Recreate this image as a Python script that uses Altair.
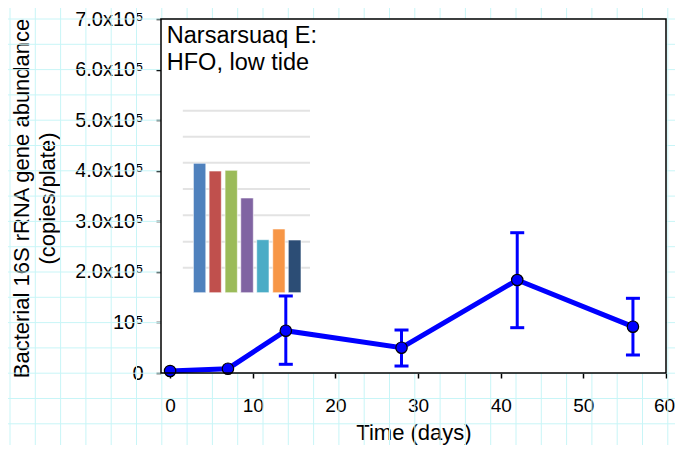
import altair as alt
import pandas as pd

# ---------------- data ----------------
days = [0, 7, 14, 28, 42, 56]
abundance = [4000, 8500, 83600, 50000, 183900, 91600]
err_low = [None, None, 17200, 13800, 89600, 35600]
err_high = [None, None, 152300, 85000, 277400, 147700]

# small embedded bar picture (inset) in the upper-left of the plot
inset_colors = ["#4F81BD", "#C0504D", "#9BBB59", "#8064A2", "#4BACC6", "#F79646", "#2C4D75"]
inset_start = [2.82, 4.72, 6.65, 8.55, 10.48, 12.42, 14.30]
inset_end = [4.32, 6.20, 8.14, 10.07, 11.97, 13.91, 15.84]
inset_top = [414700, 399400, 400800, 346100, 263600, 284800, 263000]
inset_base = 158800
inset_grid = [208200, 259600, 311800, 363800, 415900, 467300, 518700]
inset_grid_from = 1.54
inset_grid_to = 16.93

note_lines = ["Narsarsuaq E:", "HFO, low tide"]
note_y = [652000, 599000]
note_x = -0.4

x_ticks = [0, 10, 20, 30, 40, 50, 60]
y_ticks = [0, 100000, 200000, 300000, 400000, 500000, 600000, 700000]
y_tick_labels = ["0\u00a0", "10\u2075", "2.0x10\u2075", "3.0x10\u2075", "4.0x10\u2075",
                 "5.0x10\u2075", "6.0x10\u2075", "7.0x10\u2075"]
x_title = "Time (days)"
y_title = ["Bacterial 16S rRNA gene abundance", "(copies/plate)"]

# ---------------- layout / style ----------------
W, H = 505, 354
PAD_L, PAD_T, PAD_R, PAD_B = 153, 11, 9, 72
FONT = "Liberation Sans"
BLUE = "#0000FF"
GRID = "#c8f5f7"

label_expr = " : ".join(f"datum.value == {v} ? '{l}'" for v, l in zip(y_ticks, y_tick_labels)) + " : ''"

xscale = alt.Scale(domain=[-1.1, 60], nice=False, zero=False)
yscale = alt.Scale(domain=[0, 700000], nice=False, zero=False)

xaxis = alt.Axis(values=x_ticks, title=x_title, grid=False, domain=False,
                 tickSize=5, tickWidth=1.5, tickColor="black",
                 labelFontSize=19, labelColor="black", labelFont=FONT,
                 labelBaseline="alphabetic", labelPadding=33, labelFlush=False,
                 labelOverlap=False,
                 labelOffset={"condition": {"test": f"datum.value == {x_ticks[-1]}", "value": -2},
                              "value": 0},
                 titleFontSize=22, titleFontWeight="normal", titleColor="black",
                 titleFont=FONT, titleBaseline="alphabetic", titleY=66.5)
yaxis = alt.Axis(values=y_ticks, title=y_title, labelExpr=label_expr, grid=False,
                 domain=False, tickSize=5, tickWidth=1.5, tickColor="black",
                 labelFontSize=20, labelColor="black", labelFont=FONT,
                 labelAlign="right", labelBaseline="middle", labelPadding=13,
                 labelFlush=False, labelOverlap=False,
                 titleFontSize=22, titleFontWeight="normal", titleColor="black",
                 titleFont=FONT, titleBaseline="alphabetic", titleX=-132.7,
                 titleY=179, titleLineHeight=26, titleAngle=270)


def X(f):
    return alt.X(f, type="quantitative", scale=xscale, axis=xaxis)


def Y(f):
    return alt.Y(f, type="quantitative", scale=yscale, axis=yaxis)


main = pd.DataFrame({"day": days, "value": abundance, "low": err_low, "high": err_high})
inset = pd.DataFrame({"start": inset_start, "end": inset_end, "top": inset_top,
                      "base": [inset_base] * len(inset_top), "color": inset_colors})
igrid = pd.DataFrame({"y": inset_grid, "x0": [inset_grid_from] * len(inset_grid),
                      "x1": [inset_grid_to] * len(inset_grid)})
notes = pd.DataFrame({"text": note_lines, "y": note_y, "x": [note_x] * len(note_lines)})
one = pd.DataFrame({"a": [0]})

# graph-paper background of the page
vlines = alt.Chart(alt.sequence(0, 27, as_="k")).transform_calculate(
    px="-151 + datum.k * 25.3"
).mark_rule(color=GRID, strokeWidth=1).encode(
    x=alt.X("px:Q", scale=None, axis=None),
    y=alt.value(-PAD_T), y2=alt.value(H + PAD_B))
hlines = alt.Chart(alt.sequence(0, 18, as_="j")).transform_calculate(
    py="datum.j * 25.3"
).mark_rule(color=GRID, strokeWidth=1).encode(
    y=alt.Y("py:Q", scale=None, axis=None),
    x=alt.value(-PAD_L), x2=alt.value(W + PAD_R))

white = alt.Chart(one).mark_rect(color="white").encode(
    x=alt.value(0), x2=alt.value(W), y=alt.value(0), y2=alt.value(H))
frame = alt.Chart(one).mark_rect(fillOpacity=0, stroke="black", strokeWidth=1.5).encode(
    x=alt.value(0), x2=alt.value(W), y=alt.value(0), y2=alt.value(H))

ig = alt.Chart(igrid).mark_rule(color="#e3e3e3", strokeWidth=2).encode(
    x=X("x0"), x2=alt.X2("x1"), y=Y("y"))
ib = alt.Chart(inset).mark_rect(stroke="white", strokeWidth=1, strokeOpacity=0.6).encode(
    x=X("start"), x2=alt.X2("end"), y=Y("top"), y2=alt.Y2("base"),
    color=alt.Color("color:N", scale=None))

base = alt.Chart(main)
err = base.transform_filter("datum.high != null").mark_rule(color=BLUE, strokeWidth=3).encode(
    x=X("day"), y=Y("low"), y2=alt.Y2("high"))
cap_hi = base.transform_filter("datum.high != null").mark_tick(
    orient="horizontal", size=14, thickness=3, color=BLUE, opacity=1).encode(
    x=X("day"), y=Y("high"))
cap_lo = base.transform_filter("datum.high != null").mark_tick(
    orient="horizontal", size=14, thickness=3, color=BLUE, opacity=1).encode(
    x=X("day"), y=Y("low"))
line = base.mark_line(color=BLUE, strokeWidth=5).encode(x=X("day"), y=Y("value"))
pts = base.mark_circle(size=130, color=BLUE, stroke="black", strokeWidth=1.2, opacity=1).encode(
    x=X("day"), y=Y("value"))
note = alt.Chart(notes).mark_text(align="left", baseline="alphabetic", fontSize=23.5,
                                  font=FONT, color="black").encode(
    x=X("x"), y=Y("y"), text="text:N")

chart = alt.layer(vlines, hlines, white, ig, ib, err, cap_hi, cap_lo, line, pts, note, frame).properties(
    width=W, height=H,
    padding={"left": PAD_L, "top": PAD_T, "right": PAD_R, "bottom": PAD_B},
    autosize=alt.AutoSizeParams(type="none"),
    background="white",
).configure(font=FONT).configure_view(strokeWidth=0)

chart.save("out.html", embed_options={"renderer": "svg", "actions": False})
